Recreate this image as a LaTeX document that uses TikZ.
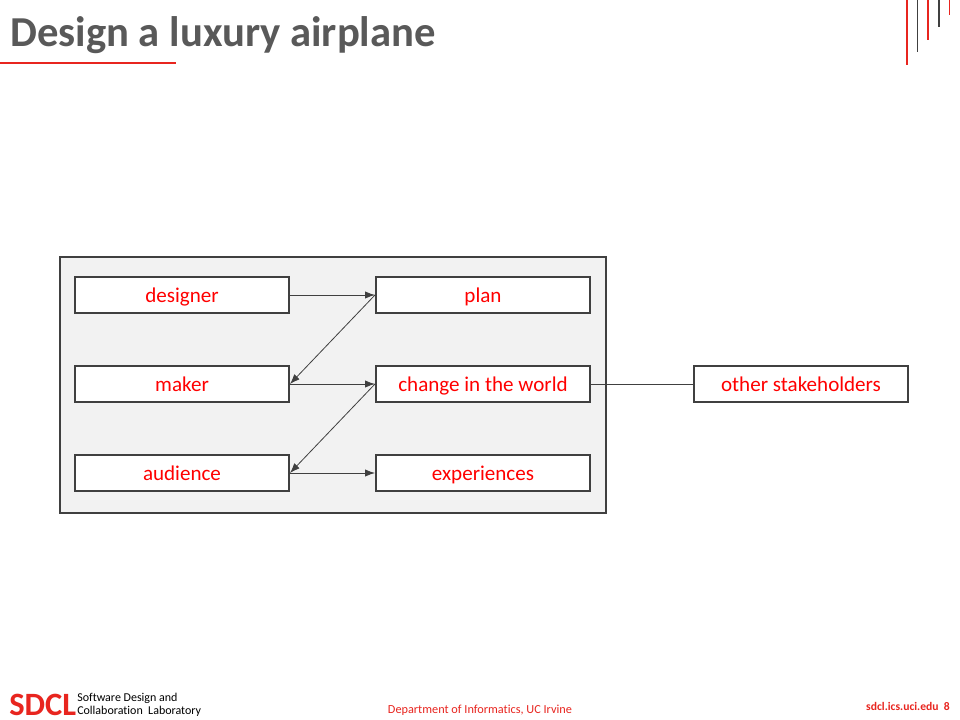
\documentclass[tikz,border=0pt]{standalone}
\usepackage{fontspec}
\setmainfont{Carlito}[Ligatures={NoCommon,TeX}]
\usetikzlibrary{arrows.meta}
\definecolor{sred}{HTML}{E8251F}
\definecolor{tred}{HTML}{FF0000}
\definecolor{dgray}{HTML}{404040}
\definecolor{tgray}{HTML}{595959}
\definecolor{bgray}{HTML}{F2F2F2}
\tikzset{
  box/.style={draw=dgray, line width=1.5pt, fill=white, minimum width=160.5pt, minimum height=27pt, inner sep=0pt, text height=12pt, text depth=1.5pt, text=tred, font=\fontsize{15.8}{17}\selectfont},
  conn/.style={draw=dgray, line width=0.6pt},
  arr/.style={conn, -{Latex[length=7.5pt,width=5.5pt]}},
  labtext/.style={anchor=base west, inner sep=0pt, text=black, font=\fontsize{9}{10}\selectfont},
}
\begin{document}
\begin{tikzpicture}[x=0.75pt,y=-0.75pt]
\useasboundingbox[fill=white] (0,0) rectangle (960,720);
% title
\node[anchor=west, inner sep=0pt, text=tgray, font=\bfseries\fontsize{32}{34}\selectfont] (title) at (10,35) {Design a luxury airplane};
\draw[sred, line width=1.2pt] (0,63) -- (176,63);
% top right lines
\draw[sred, line width=1pt] (907,0) -- (907,65);
\draw[dgray, line width=1pt] (917.5,0) -- (917.5,52);
\draw[sred, line width=1pt] (928,0) -- (928,40);
\draw[dgray, line width=1pt] (939,0) -- (939,27);
\draw[sred, line width=1pt] (949.5,0) -- (949.5,15);
% frame
\draw[draw=dgray, line width=1.5pt, fill=bgray] (60,257) rectangle (606,513);
% boxes
\node[box] (designer) at (182,295) {designer};
\node[box] (maker) at (182,384) {maker};
\node[box] (audience) at (182,473) {audience};
\node[box] (plan) at (483,295) {plan};
\node[box] (change) at (483,384) {change in the world};
\node[box] (exper) at (483,473) {experiences};
\node[box] (other) at (801,384) {other stakeholders};
% connectors
\draw[arr] (designer.east) -- (plan.west);
\draw[arr] (plan.west) -- (maker.east);
\draw[arr] (maker.east) -- (change.west);
\draw[arr] (change.west) -- (audience.east);
\draw[arr] (audience.east) -- (exper.west);
\draw[conn] (change.east) -- (other.west);
% footer
\node[anchor=west, inner sep=0pt, text=sred, font=\bfseries\fontsize{24.4}{26}\selectfont] (sdcl) at (9,705) {SDCL};
\node[labtext] (lab1) at (77,701) {Software Design and};
\node[labtext] (lab2) at (77,714.5) {Collaboration\ \ Laboratory};
\node[inner sep=0pt, text=sred, font=\fontsize{9.2}{10}\selectfont] (dept) at (480,710) {Department of Informatics, UC Irvine};
\node[anchor=east, inner sep=0pt, text=sred, font=\bfseries\fontsize{8.7}{10}\selectfont] (url) at (950,706) {sdcl.ics.uci.edu\ \ 8};
\end{tikzpicture}
\end{document}
